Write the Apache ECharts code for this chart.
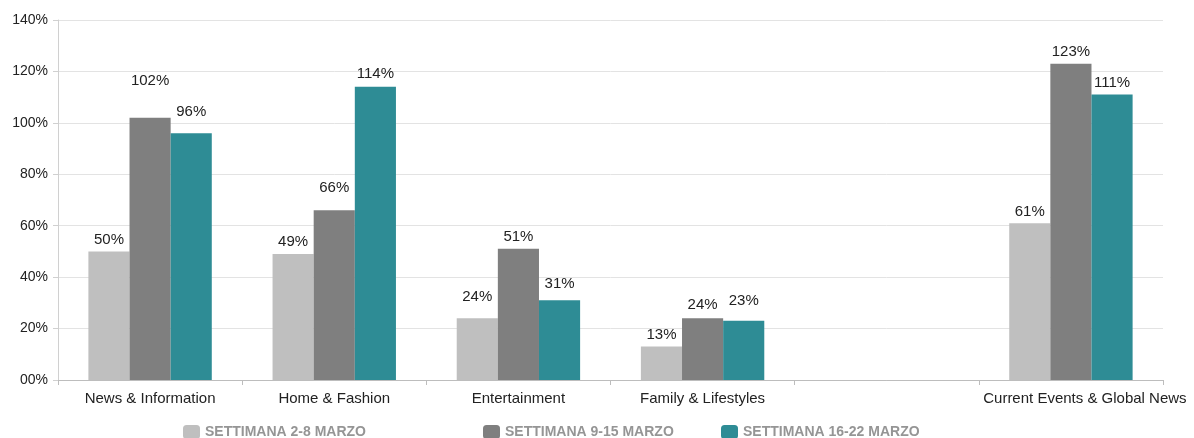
<!DOCTYPE html>
<html>
<head>
<meta charset="utf-8">
<script src="https://cdn.jsdelivr.net/npm/echarts@6/dist/echarts.min.js"></script>
<style>html,body{margin:0;padding:0;background:#fff}#c{width:1194px;height:438px}</style>
</head>
<body>
<div id="c"></div>
<script>
const categories = ['News & Information', 'Home & Fashion', 'Entertainment', 'Family & Lifestyles', '', 'Current Events & Global News'];
const seriesNames = ['SETTIMANA 2-8 MARZO', 'SETTIMANA 9-15 MARZO', 'SETTIMANA 16-22 MARZO'];
const week1 = [50, 49, 24, 13, null, 61];
const week2 = [102, 66, 51, 24, null, 123];
const week3 = [96, 114, 31, 23, null, 111];
const yTicks = [0, 20, 40, 60, 80, 100, 120, 140];

// label gap above each bar (style only, px)
const labelGap = [
  [4, 5, 14, 4, 0, 4],
  [29, 15, 4, 6, 0, 4],
  [14, 5, 9, 12, 0, 4]
];
// horizontal nudge of category labels (style only, px)
const catShift = [0, 0, 0, 0, 0, 14];

const colors = ['#bfbfbf', '#7f7f7f', '#2e8c95'];
const font = 'Liberation Sans, Arial, sans-serif';
const chart = echarts.init(document.getElementById('c'));
const mk = (name, values, i) => ({
  name, type: 'bar', barGap: 0, barCategoryGap: '33%',
  data: values.map((v, j) => v == null ? '-' : { value: v, label: { distance: labelGap[i][j] } }),
  itemStyle: { color: colors[i] },
  label: { show: true, position: 'top', formatter: p => p.value + '%', color: '#222', fontSize: 15, fontFamily: font }
});
const legendBase = { top: 420, itemWidth: 17, itemHeight: 14, itemGap: 5, selectedMode: false,
  textStyle: { color: '#959595', fontSize: 14, fontWeight: 'bold', fontFamily: font } };
chart.setOption({
  animation: false,
  grid: { left: 58, right: 31, top: 20, bottom: 58 },
  legend: [
    Object.assign({}, legendBase, { left: 178, data: [seriesNames[0]] }),
    Object.assign({}, legendBase, { left: 478, data: [seriesNames[1]] }),
    Object.assign({}, legendBase, { left: 716, data: [seriesNames[2]] })
  ],
  xAxis: {
    type: 'category',
    data: categories.map((c, i) => ({ value: c, textStyle: { padding: [0, 0, 0, catShift[i] * 2] } })),
    axisLine: { lineStyle: { color: '#bdbdbd' } },
    axisTick: { show: true, length: 5, lineStyle: { color: '#bdbdbd' } },
    axisLabel: { color: '#222', fontSize: 15, fontFamily: font, margin: 11, interval: 0 }
  },
  yAxis: {
    type: 'value', min: yTicks[0], max: yTicks[yTicks.length - 1], interval: 20,
    axisLine: { show: true, lineStyle: { color: '#d0d0d0' } },
    axisTick: { show: true, length: 5, lineStyle: { color: '#d0d0d0' } },
    splitLine: { lineStyle: { color: '#e3e3e3' } },
    axisLabel: { color: '#222', fontSize: 14, fontFamily: font, margin: 10,
      formatter: v => (v < 10 ? '0' + v : v) + '%' }
  },
  series: [mk(seriesNames[0], week1, 0), mk(seriesNames[1], week2, 1), mk(seriesNames[2], week3, 2)]
});
</script>
</body>
</html>
